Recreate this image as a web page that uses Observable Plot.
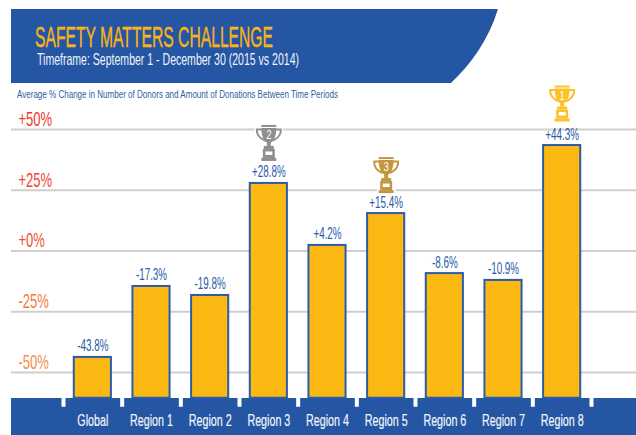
<!DOCTYPE html>
<html>
<head>
<meta charset="utf-8">
<script src="https://cdn.jsdelivr.net/npm/d3@7"></script>
<script src="https://cdn.jsdelivr.net/npm/@observablehq/plot@0.6"></script>
<style>
  html, body { margin: 0; padding: 0; background: #fff; }
  #page { position: relative; width: 636px; height: 435px; overflow: hidden; font-family: "Liberation Sans", sans-serif; }
  #banner { position: absolute; left: 11px; top: 9px; width: 487px; height: 74px; background: #2456a4; clip-path: path("M0 0 H487 C478 30 460 55 440 74 H0 Z"); }
  #band { position: absolute; left: 11px; top: 398px; width: 625px; height: 37px; background: #2456a4; }
  #title { position: absolute; left: 35px; top: 24px; font-size: 30px; line-height: 26px; color: #fbb316; white-space: nowrap; transform-origin: 0 0; -webkit-text-stroke: 0.4px #fbb316; }
  #subtitle { position: absolute; left: 37px; top: 51px; font-size: 17px; line-height: 18px; color: #f2f4f8; white-space: nowrap; transform-origin: 0 0; }
  #note { position: absolute; left: 17px; top: 88px; font-size: 11px; line-height: 12px; color: #2f5da8; white-space: nowrap; transform-origin: 0 0; }
  #chart { position: absolute; left: 0; top: 0; }
</style>
</head>
<body>
<div id="page">
  <div id="banner"></div>
  <div id="band"></div>
  <div id="chart"></div>
  <div id="title">SAFETY MATTERS CHALLENGE</div>
  <div id="subtitle">Timeframe: September 1 - December 30 (2015 vs 2014)</div>
  <div id="note">Average % Change in Number of Donors and Amount of Donations Between Time Periods</div>
</div>
<script>
const categories = ["Global", "Region 1", "Region 2", "Region 3", "Region 4", "Region 5", "Region 6", "Region 7", "Region 8"];
// Heights of the bars as drawn, read against the gridlines
const barValues = [-43.8, -14.6, -18.3, 27.8, 2.3, 15.4, -9.3, -12.1, 43.4];
// Values as printed above the bars
const barLabels = ["-43.8%", "-17.3%", "-19.8%", "+28.8%", "+4.2%", "+15.4%", "-8.6%", "-10.9%", "+44.3%"];
const tickValues = [50, 25, 0, -25, -50];
const tickLabels = ["+50%", "+25%", "+0%", "-25%", "-50%"];
const tickColors = ["#ee3b30", "#ef4431", "#ef4f33", "#f47a3e", "#f78d4d"];
const trophyRegions = ["Region 8", "Region 3", "Region 5"];
const trophyRanks = ["1", "2", "3"];
const trophyColors = ["#fdc12a", "#8f8f8f", "#c2963f"];
const trophyOffsets = [-42, -40.5, -38.5];

const BLUE = "#2a5ca8";
const GOLD = "#fdb913";
const FONT = '"Liberation Sans", sans-serif';
const rows = categories.map((c, i) => ({ category: c, value: barValues[i], label: barLabels[i] }));
const ticks = tickValues.map((v, i) => ({ v, label: tickLabels[i], color: tickColors[i] }));

function trophySrc(color) {
  const shapes = (extra, line) => `
    <g ${extra}>
      <rect x="12" y="0" width="30" height="4"/>
      <path d="M12 6H42C42 22 37 32 31 35V42H23V35C17 32 12 22 12 6Z"/>
      <path d="M13 9H3C2 22 11 28 20 32" fill="none" ${line}/>
      <path d="M41 9H51C52 22 43 28 34 32" fill="none" ${line}/>
      <rect x="17" y="42" width="20" height="6"/>
      <rect x="15" y="48" width="24" height="18"/>
      <rect x="12" y="66" width="30" height="6"/>
    </g>`;
  const svg = `<svg xmlns="http://www.w3.org/2000/svg" viewBox="-6 -4 66 80">
    ${shapes('fill="#fff" stroke="#fff" stroke-width="7" stroke-linejoin="round"', 'stroke-width="10"')}
    ${shapes(`fill="${color}"`, `stroke="${color}" stroke-width="4"`)}
    <rect x="20" y="53" width="14" height="7" fill="#fff"/>
  </svg>`;
  return "data:image/svg+xml;utf8," + encodeURIComponent(svg);
}

const trophyMarks = trophyRegions.flatMap((region, i) => {
  const row = rows.filter(d => d.category === region);
  return [
    Plot.image(row, { x: "category", y: "value", src: () => trophySrc(trophyColors[i]), width: 33, height: 40, dy: trophyOffsets[i] }),
    Plot.text(row, { x: "category", y: "value", text: () => trophyRanks[i], dy: trophyOffsets[i] - 7.5, fill: "#fff", fontSize: 12, className: "trophy-rank" })
  ];
});

const step = (591 - 63) / categories.length;
const bandTop = -60.6;

const chart = Plot.plot({
  width: 636,
  height: 435,
  marginTop: 0,
  marginBottom: 0,
  marginLeft: 11,
  marginRight: 0,
  style: { background: "transparent", fontFamily: FONT },
  x: { type: "band", domain: categories, range: [63, 591], round: false, paddingInner: 0.35, paddingOuter: 0.175, axis: null },
  y: { type: "linear", domain: [-75.93, 103.09], range: [435, 0], axis: null },
  marks: [
    Plot.ruleY(ticks, { y: "v", stroke: "#cfcfcf", strokeWidth: 2 }),
    Plot.barY(rows, { x: "category", y1: bandTop, y2: "value", fill: GOLD, stroke: BLUE, strokeWidth: 2, insetLeft: 0.5, insetRight: 0.5 }),
    Plot.ruleX(categories, { x: d => d, y1: bandTop, y2: bandTop - 3.7, dx: -step / 2, stroke: "#fff", strokeWidth: 4 }),
    Plot.ruleX(categories.slice(-1), { x: d => d, y1: bandTop, y2: bandTop - 3.7, dx: step / 2, stroke: "#fff", strokeWidth: 4 }),
    Plot.text(ticks, { frameAnchor: "left", y: "v", text: "label", fill: d => d.color, dx: 7, dy: -3.5, textAnchor: "start", lineAnchor: "bottom", fontSize: 21, className: "t-tick" }),
    Plot.text(rows, { x: "category", y: "value", text: "label", fill: BLUE, dy: -6, lineAnchor: "bottom", fontSize: 17, className: "t-value" }),
    Plot.text(rows, { x: "category", y: -70, text: "category", fill: "#f2f4f8", fontSize: 16.5, stroke: "#f2f4f8", strokeWidth: 0.2, className: "t-cat" }),
    ...trophyMarks
  ]
});
document.getElementById("chart").appendChild(chart);

// The reference's typeface is condensed: narrow the chart's labels without changing their content
[["t-tick", 0.62], ["t-value", 0.58], ["t-cat", 0.65], ["trophy-rank", 0.8]].forEach(([cls, ratio]) => {
  chart.querySelectorAll(`.${cls} text, text.${cls}`).forEach(t => {
    t.setAttribute("transform", `${t.getAttribute("transform") || ""} scale(${ratio},1)`);
  });
});

// Fit the header text widths to the reference
function fit(id, target) {
  const el = document.getElementById(id);
  el.style.transform = `scaleX(${target / el.getBoundingClientRect().width})`;
}
fit("title", 238);
fit("subtitle", 262);
fit("note", 321);
</script>
</body>
</html>
